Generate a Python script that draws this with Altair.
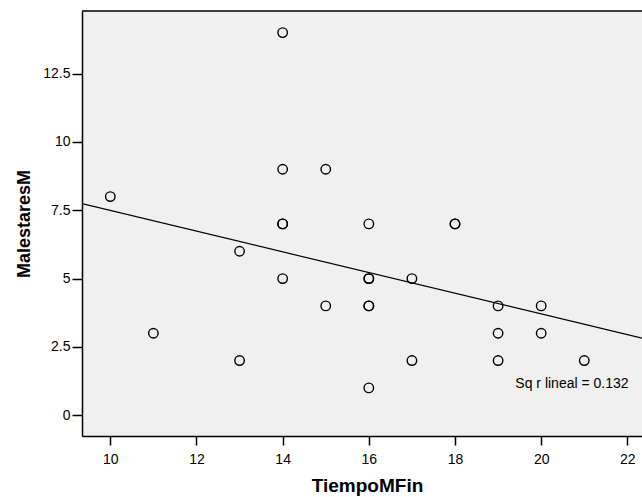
import altair as alt
import pandas as pd

# Data
tiempo = [10, 11, 13, 13, 14, 14, 14, 14, 14, 15, 15, 16, 16, 16, 16, 16, 16,
          17, 17, 18, 18, 19, 19, 19, 20, 20, 21]
malestares = [8, 3, 6, 2, 14, 9, 7, 7, 5, 9, 4, 7, 5, 5, 4, 4, 1,
              5, 2, 7, 7, 4, 3, 2, 4, 3, 2]

# Fitted line (at the plot edges)
fit_x = [9.343, 22.34]
fit_y = [7.74, 2.82]

annot_x = [19.4]
annot_y = [1.15]
annot_text = ["Sq r lineal = 0.132"]

x_ticks = [10, 12, 14, 16, 18, 20, 22]
y_ticks = [0, 2.5, 5, 7.5, 10, 12.5]

W, H = 560, 425
FONT = "Liberation Sans"

pts = pd.DataFrame({"TiempoMFin": tiempo, "MalestaresM": malestares})
fit = pd.DataFrame({"TiempoMFin": fit_x, "MalestaresM": fit_y})
ann = pd.DataFrame({"x": annot_x, "y": annot_y, "t": annot_text})

xs = alt.Scale(domain=[9.343, 22.34], nice=False, zero=False)
ys = alt.Scale(domain=[-0.76, 14.79], nice=False, zero=False)

xaxis = alt.Axis(values=x_ticks, format="d", grid=False, tickSize=9, tickColor="black",
                 tickWidth=1.5, domainColor="black", domainWidth=1.5,
                 labelFont=FONT, labelFontSize=14, labelColor="black", labelPadding=7,
                 titleFont=FONT, titleFontSize=19, titleFontWeight="bold", titleColor="black",
                 titlePadding=10, titleX=285)
yaxis = alt.Axis(values=y_ticks, labelExpr="format(datum.value, '.1~f')", grid=False,
                 tickSize=10, tickColor="black",
                 tickWidth=1.5, domainColor="black", domainWidth=1.5,
                 labelFont=FONT, labelFontSize=14, labelColor="black", labelPadding=2,
                 titleFont=FONT, titleFontSize=18, titleFontWeight="bold", titleColor="black",
                 titlePadding=9)

points = alt.Chart(pts).mark_point(shape="circle", filled=False, color="black",
                                   opacity=1, size=90, strokeWidth=1.4, clip=True).encode(
    x=alt.X("TiempoMFin:Q", scale=xs, axis=xaxis, title="TiempoMFin"),
    y=alt.Y("MalestaresM:Q", scale=ys, axis=yaxis, title="MalestaresM"),
)

line = alt.Chart(fit).mark_line(color="black", strokeWidth=1.2, clip=True).encode(
    x=alt.X("TiempoMFin:Q", scale=xs),
    y=alt.Y("MalestaresM:Q", scale=ys),
)

text = alt.Chart(ann).mark_text(align="left", baseline="middle", font=FONT,
                                fontSize=14, color="black").encode(
    x=alt.X("x:Q", scale=xs),
    y=alt.Y("y:Q", scale=ys),
    text="t:N",
)

top_rule = alt.Chart(ann).mark_rule(color="black", strokeWidth=1.5).encode(
    x=alt.value(0), x2=alt.value(W), y=alt.value(0)
)

chart = alt.layer(top_rule, line, points, text).properties(
    width=W, height=H,
    autosize=alt.AutoSizeParams(type="none"),
    padding={"left": 82, "top": 11, "right": 0, "bottom": 61},
    background="white",
).configure_view(fill="#f0f0f0", stroke=None)

chart.save("out.html", embed_options={"renderer": "svg", "actions": False})
